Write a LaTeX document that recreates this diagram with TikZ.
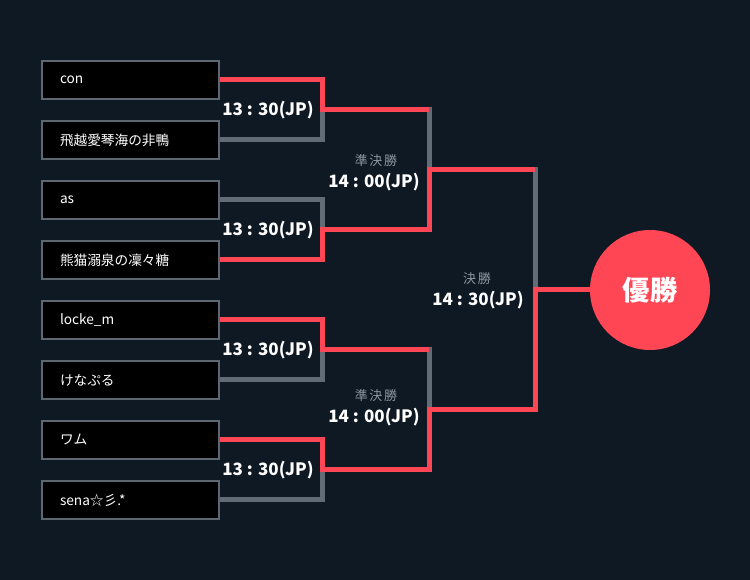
\documentclass[tikz,border=0pt]{standalone}
\usepackage{fontspec}
\setmainfont{Noto Sans CJK JP}
\definecolor{bg}{HTML}{0F1923}
\definecolor{vred}{HTML}{FF4655}
\definecolor{lgray}{HTML}{626C77}
\definecolor{bgray}{HTML}{5C6772}
\definecolor{tgray}{HTML}{8C97A2}
\tikzset{
  pbox/.style={draw=bgray, line width=1.5pt, fill=black, anchor=west,
    minimum width=132.75pt, minimum height=28.5pt, inner xsep=13.5pt,
    text width=105.75pt, align=left, text=white,
    font=\fontsize{10.25}{12}\selectfont},
  gline/.style={draw=lgray, line width=3.75pt},
  rline/.style={draw=vred, line width=3.75pt},
  tlabel/.style={text=white, font=\fontsize{12.75}{14}\selectfont\bfseries, inner sep=0pt},
  slabel/.style={text=tgray, font=\fontsize{9.75}{11}\selectfont\addfontfeature{LetterSpace=12}, inner sep=0pt},
  champ/.style={circle, fill=vred, minimum size=90pt, inner sep=0pt, text=white,
    font=\fontsize{20.5}{22}\selectfont\bfseries}
}
\begin{document}
\begin{tikzpicture}[x=0.75pt, y=-0.75pt]
\fill[bg] (0,0) rectangle (750,580);
\useasboundingbox (0,0) rectangle (750,580);
% coordinates
\coordinate (q1) at (322,110);
\coordinate (q2) at (322,230);
\coordinate (q3) at (322,350);
\coordinate (q4) at (322,470);
\coordinate (s1) at (429,170);
\coordinate (s2) at (429,410);
\coordinate (f) at (535,290);
% gray brackets
\draw[gline] (218,80) coordinate (e1) -| (q1);
\draw[gline] (218,140) coordinate (e2) -| (q1);
\draw[gline] (218,200) coordinate (e3) -| (q2);
\draw[gline] (218,260) coordinate (e4) -| (q2);
\draw[gline] (218,320) coordinate (e5) -| (q3);
\draw[gline] (218,380) coordinate (e6) -| (q3);
\draw[gline] (218,440) coordinate (e7) -| (q4);
\draw[gline] (218,500) coordinate (e8) -| (q4);
\draw[gline] (q1) -| (s1);
\draw[gline] (q2) -| (s1);
\draw[gline] (q3) -| (s2);
\draw[gline] (q4) -| (s2);
\draw[gline] (s1) -| (f);
\draw[gline] (s2) -| (f);
% winner node
\node[champ] (w) at (650,290) {優勝};
% red paths
\draw[rline] (e1) -| (q1) -- (q1 -| s1);
\draw[rline] (e4) -| (q2) -| (s1) -- (s1 -| f);
\draw[rline] (e5) -| (q3) -- (q3 -| s2);
\draw[rline] (e7) -| (q4) -| (s2) -| (f) -- (w.west);
% player boxes
\node[pbox] (p1) at (41,80) {con};
\node[pbox] (p2) at (41,140) {飛越愛琴海の非鴨};
\node[pbox] (p3) at (41,200) {as};
\node[pbox] (p4) at (41,260) {熊猫溺泉の凜々糖};
\node[pbox] (p5) at (41,320) {locke\_m};
\node[pbox] (p6) at (41,380) {けなぷる};
\node[pbox] (p7) at (41,440) {ワム};
\node[pbox] (p8) at (41,500) {sena☆彡.*};
% labels
\node[tlabel] (t1) at (268,110) {13 : 30(JP)};
\node[tlabel] (t2) at (268,230) {13 : 30(JP)};
\node[tlabel] (t3) at (268,350) {13 : 30(JP)};
\node[tlabel] (t4) at (268,470) {13 : 30(JP)};
\node[slabel] (u1) at (376,161) {準決勝};
\node[tlabel] (v1) at (374,182) {14 : 00(JP)};
\node[slabel] (u2) at (376,396) {準決勝};
\node[tlabel] (v2) at (374,417) {14 : 00(JP)};
\node[slabel] (u3) at (477,279) {決勝};
\node[tlabel] (v3) at (478,300) {14 : 30(JP)};
\end{tikzpicture}
\end{document}
